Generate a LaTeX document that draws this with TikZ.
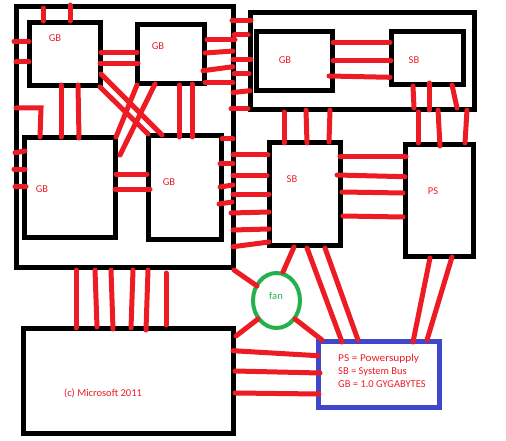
\documentclass[tikz,border=0pt]{standalone}
\usepackage{fontspec}
\setmainfont{Carlito}
\definecolor{pred}{HTML}{ED1C24}
\definecolor{pblue}{HTML}{3F48CC}
\definecolor{pgreen}{HTML}{22B14C}
\begin{document}
\begin{tikzpicture}[x=1pt,y=-1pt,
  box/.style={draw=black,line width=5pt},
  wire/.style={draw=pred,line width=5pt,line cap=round},
  lbl/.style={text=pred,font=\fontsize{10.5}{12}\selectfont,inner sep=0pt}]
\useasboundingbox (0,0) rectangle (506,441);
% boxes
\draw[box] (16.5,6.5) rectangle (233.5,267.5);
\draw[box] (29.5,22.5) rectangle (100.5,85.5);
\draw[box] (137.5,24.5) rectangle (204.5,83.5);
\draw[box] (24.5,137.5) rectangle (115.5,237.5);
\draw[box] (148.5,135.5) rectangle (221.5,239.5);
\draw[box] (250.5,12.5) rectangle (474.5,109.5);
\draw[box] (256.5,31.5) rectangle (332.5,90.5);
\draw[box] (391.5,31.5) rectangle (463.5,84.5);
\draw[box] (269.5,142.5) rectangle (340.5,245.5);
\draw[box] (405.5,144.5) rectangle (473.5,256.5);
\draw[box] (23.5,328.5) rectangle (233.5,433.5);
\draw[draw=pblue,line width=5pt] (318.5,341.5) rectangle (439.5,407.5);
\draw[draw=pgreen,line width=4pt] (276.5,300.5) ellipse [x radius=23.5,y radius=27.5];
% labels
\node[lbl] (g1) at (55,38) {GB};
\node[lbl] (g2) at (158,46) {GB};
\node[lbl] (g3) at (42,189) {GB};
\node[lbl] (g4) at (169,182) {GB};
\node[lbl] (g5) at (285,60) {GB};
\node[lbl] (s1) at (414,60) {SB};
\node[lbl] (s2) at (292,179) {SB};
\node[lbl] (ps) at (433,191) {PS};
\node[lbl] (ms) at (103,393) {(c) Microsoft 2011};
\node[lbl,text=pgreen] (fan) at (276,296) {fan};
\node[lbl,anchor=west] (l1) at (338,359) {\scalebox{1.08}[1]{PS = Powersupply}};
\node[lbl,anchor=west] (l2) at (338,371.5) {SB = System Bus};
\node[lbl,anchor=west] (l3) at (338,384) {GB = 1.0 GYGABYTES};
% red wires: top-left group
\draw[wire] (43,8) -- (43,21);
\draw[wire] (70,5) -- (70,21);
\draw[wire] (14,41.3) -- (29,41.3);
\draw[wire] (16,62) -- (29,62);
\draw[wire] (16,108) -- (41,108) -- (40,137);
\draw[wire] (101,52.3) -- (137,52.3);
\draw[wire] (100,63.3) -- (138,63.3);
\draw[wire] (61,85) -- (61,137);
\draw[wire] (78,85) -- (79,138);
\draw[wire] (101,74) -- (162,135);
\draw[wire] (100,87) -- (148,134);
\draw[wire] (137,85) -- (116,137);
\draw[wire] (155,84) -- (120,155);
\draw[wire] (179,85) -- (179,137);
\draw[wire] (192,84) -- (192,137);
\draw[wire] (207,40) -- (235,40);
\draw[wire] (205,53) -- (233,51);
\draw[wire] (203,70.7) -- (233,66.7);
\draw[wire] (205,82.7) -- (233,82.7);
% big box to top-right box
\draw[wire] (232,20.3) -- (251,20.3);
\draw[wire] (234,35) -- (248,35);
\draw[wire] (233,59.3) -- (251,59.3);
\draw[wire] (234,74) -- (249,74);
\draw[wire] (233,92.5) -- (250,90.7);
\draw[wire] (231,109) -- (248,109);
% GB5 to SB top
\draw[wire] (333,42.3) -- (390,42.3);
\draw[wire] (333,61) -- (391,61);
\draw[wire] (329,76) -- (390,77.3);
% SB top down
\draw[wire] (413,86) -- (414,108);
\draw[wire] (429,83) -- (429,110);
\draw[wire] (452,85) -- (457,108);
\draw[wire] (418,112) -- (418,143);
\draw[wire] (438,110) -- (440,146);
\draw[wire] (467,110) -- (465,143);
% top-right box to SB middle
\draw[wire] (284,112) -- (284,143);
\draw[wire] (306,110) -- (307,143);
\draw[wire] (330,110) -- (329,142);
% GB3 / GB4
\draw[wire] (15,152.7) -- (25,151);
\draw[wire] (14,169) -- (25,169);
\draw[wire] (15,186.7) -- (26,186.7);
\draw[wire] (116,174) -- (147,174);
\draw[wire] (115,189) -- (150,189);
\draw[wire] (222,139) -- (233,139);
\draw[wire] (220,164) -- (233,164);
\draw[wire] (220,187) -- (233,185);
\draw[wire] (219,204) -- (232,202);
% big box to SB middle
\draw[wire] (233,155) -- (268,155);
\draw[wire] (233,175.7) -- (267,175.7);
\draw[wire] (233,194) -- (269,194);
\draw[wire] (231,213) -- (269,212);
\draw[wire] (233,230) -- (269,229);
\draw[wire] (233,246.7) -- (269,242);
% SB middle to PS
\draw[wire] (340,157) -- (406,157);
\draw[wire] (337,175) -- (405,176.7);
\draw[wire] (342,192) -- (403,193);
\draw[wire] (343,216) -- (403,217);
% big box to bottom-left box
\draw[wire] (76,270) -- (76,328);
\draw[wire] (95,270) -- (97,327);
\draw[wire] (111,270) -- (113,329);
\draw[wire] (133,270) -- (131,328);
\draw[wire] (148,270) -- (146,330);
\draw[wire] (166,273) -- (166,325);
% fan connections
\draw[wire] (234,270) -- (257,286);
\draw[wire] (294,247) -- (283,272);
\draw[wire] (258,319) -- (236,336);
\draw[wire] (295,319) -- (322,340);
% to legend
\draw[wire] (307,248) -- (342,342);
\draw[wire] (325,248) -- (358,340);
\draw[wire] (430,258) -- (413,342);
\draw[wire] (452,257) -- (427,340);
\draw[wire] (233,350.7) -- (318,355.7);
\draw[wire] (235,371) -- (320,373);
\draw[wire] (235,393) -- (319,394);
\end{tikzpicture}
\end{document}
